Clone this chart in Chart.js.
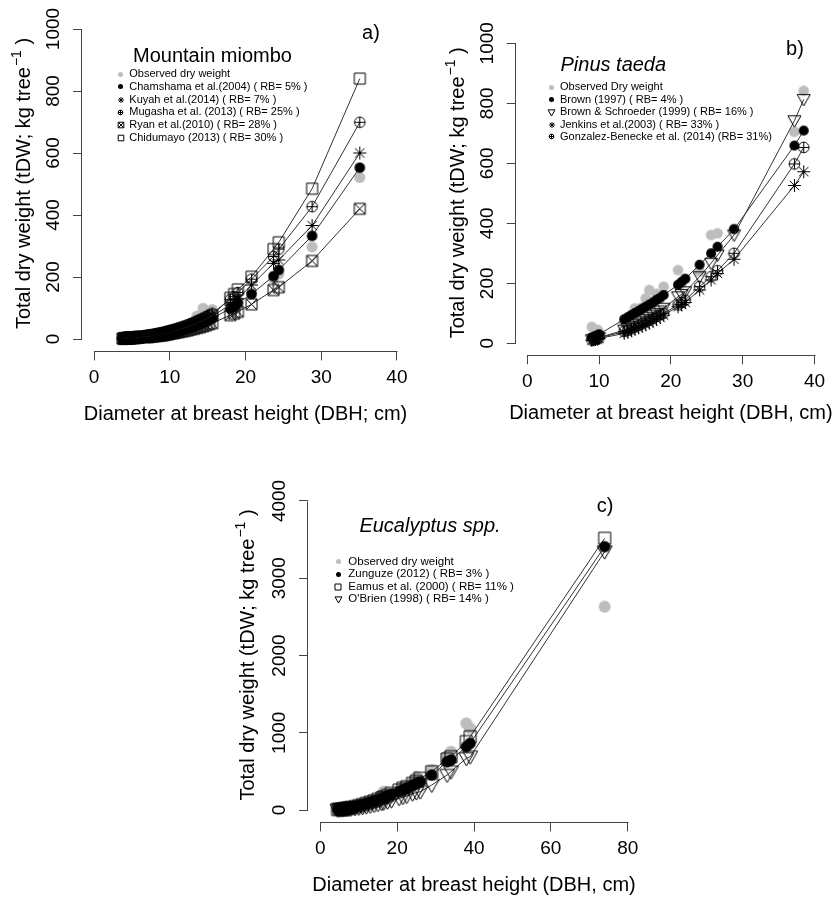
<!DOCTYPE html>
<html>
<head>
<meta charset="utf-8">
<script src="https://cdn.jsdelivr.net/npm/chart.js@4.4.1/dist/chart.umd.min.js"></script>
<style>
  html, body { margin: 0; padding: 0; background: #fff; }
  #fig { position: relative; width: 832px; height: 898px; overflow: hidden; }
  .panel { position: absolute; }
</style>
</head>
<body>
<div id="fig">
  <div class="panel" style="left:0;top:0;width:416px;height:430px"><canvas id="chartA"></canvas></div>
  <div class="panel" style="left:416px;top:0;width:416px;height:430px"><canvas id="chartB"></canvas></div>
  <div class="panel" style="left:200px;top:460px;width:460px;height:438px"><canvas id="chartC"></canvas></div>
</div>
<script>
const FONT = "'Liberation Sans', Arial, Helvetica, sans-serif";

// a) Mountain miombo - DBH (cm) and dry weight (kg/tree)
const dbhA  = [3.8, 4.0, 4.1, 4.3, 4.5, 4.6, 4.8, 5.0, 5.2, 5.4, 5.6, 5.8, 6.0, 6.8, 7.0, 7.2, 7.4, 7.6, 7.8, 8.0,
               8.2, 8.4, 8.6, 8.8, 9.0, 9.2, 9.4, 9.6, 9.8, 10.0, 10.3, 10.6, 10.9, 11.2, 11.6, 12.0, 12.4, 12.8, 13.2, 13.6,
               14.0, 14.4, 14.8, 15.2, 15.6, 18.0, 18.5, 19.0, 20.8, 23.7, 24.4, 28.8, 35.1];
const obsA  = [2, 4, 2, 5, 3, 6, 4, 7, 5, 4, 8, 6, 9, 7, 12, 9, 14, 10, 13, 11,
               16, 12, 17, 15, 20, 14, 8, 22, 18, 25, 21, 28, 26, 33, 30, 38, 42, 36, 55, 74,
               60, 99, 65, 88, 95, 110, 95, 125, 150, 195, 210, 297, 521];
const chamA = [2, 3, 3, 3, 4, 4, 4, 5, 5, 5, 6, 6, 7, 9, 9, 10, 10, 11, 12, 13,
               13, 14, 15, 16, 17, 18, 19, 20, 21, 22, 23, 25, 27, 29, 31, 34, 37, 40, 43, 47,
               50, 54, 58, 62, 67, 98, 105, 116, 145, 203, 223, 333, 553];
const kuyaA = [2, 3, 3, 3, 4, 4, 5, 5, 5, 6, 6, 7, 7, 9, 10, 10, 11, 11, 12, 13,
               14, 15, 16, 17, 18, 19, 20, 21, 23, 24, 26, 28, 30, 32, 34, 37, 41, 44, 48, 52,
               56, 60, 64, 69, 74, 110, 118, 130, 174, 244, 255, 366, 600];
const mugaA = [3, 3, 4, 4, 4, 5, 5, 6, 6, 7, 7, 8, 8, 10, 11, 11, 12, 13, 14, 15,
               16, 17, 18, 19, 20, 21, 23, 24, 25, 27, 29, 31, 33, 36, 39, 42, 46, 50, 54, 58,
               63, 67, 72, 77, 83, 128, 137, 150, 193, 266, 290, 427, 699];
const ryanA = [1, 2, 2, 2, 3, 3, 3, 4, 4, 4, 4, 5, 5, 7, 7, 7, 8, 8, 9, 10,
               10, 11, 11, 12, 13, 14, 14, 15, 16, 17, 18, 19, 21, 22, 24, 26, 28, 31, 33, 36,
               38, 41, 44, 48, 51, 77, 82, 88, 112, 158, 167, 252, 420];
const chidA = [2, 2, 2, 3, 3, 3, 4, 4, 4, 5, 5, 6, 6, 8, 8, 9, 9, 10, 11, 12,
               12, 13, 14, 15, 16, 17, 18, 19, 20, 22, 24, 26, 28, 30, 33, 36, 40, 43, 47, 51,
               56, 60, 65, 70, 76, 133, 145, 160, 201, 290, 312, 485, 840];
const labelsA = ['Observed dry weight', 'Chamshama et al.(2004) ( RB= 5% )', 'Kuyah et al.(2014) ( RB= 7% )',
  'Mugasha et al. (2013) ( RB= 25% )', 'Ryan et al.(2010) ( RB= 28% )', 'Chidumayo (2013) ( RB= 30% )'];
const xTicksA = [0, 10, 20, 30, 40];
const yTicksA = [0, 200, 400, 600, 800, 1000];

// b) Pinus taeda
const dbhB   = [9.0, 9.3, 9.5, 9.8, 10.0, 13.5, 14.0, 14.5, 15.0, 15.5, 16.0, 16.5, 17.0, 17.5, 18.0, 18.5, 19.0, 21.0, 21.5, 22.0, 24.0, 25.6, 26.5, 28.8, 37.2, 38.5];
const obsB   = [55, 30, 25, 45, 35, 70, 85, 95, 117, 110, 120, 150, 178, 140, 165, 150, 189, 244, 200, 215, 240, 361, 367, 383, 705, 842];
const brownB = [18, 22, 24, 27, 30, 80, 87, 94, 101, 108, 115, 122, 129, 136, 145, 152, 161, 195, 205, 215, 262, 300, 322, 380, 659, 709];
const bsB    = [12, 14, 15, 17, 19, 44, 50, 55, 62, 68, 74, 80, 87, 94, 100, 108, 117, 155, 163, 172, 222, 267, 294, 361, 742, 813];
const jenkB  = [10, 12, 13, 14, 16, 33, 37, 42, 47, 52, 57, 62, 68, 74, 80, 87, 94, 122, 129, 136, 178, 211, 233, 280, 526, 572];
const gonzB  = [11, 13, 14, 16, 18, 39, 43, 48, 54, 59, 65, 71, 77, 83, 89, 95, 100, 128, 136, 144, 189, 222, 242, 300, 598, 653];
const labelsB = ['Observed Dry weight', 'Brown (1997) ( RB= 4% )', 'Brown & Schroeder (1999) ( RB= 16% )',
  'Jenkins et al.(2003) ( RB= 33% )', 'Gonzalez-Benecke et al. (2014) (RB= 31%)'];
const xTicksB = [0, 10, 20, 30, 40];
const yTicksB = [0, 200, 400, 600, 800, 1000];

// c) Eucalyptus spp.
const dbhC   = [4.5, 5.0, 5.5, 6.0, 6.5, 7.0, 7.5, 8.0, 9.0, 10.0, 11.0, 12.0, 13.0, 14.0, 15.0, 16.0, 16.5, 17.5, 18.5, 20.5, 21.5, 22.5, 24.0, 25.0, 26.0, 29.0, 33.0, 34.0, 38.0, 39.0, 74.0];
const obsC   = [5, 15, 10, 25, 12, 30, 22, 40, 35, 70, 55, 95, 80, 130, 110, 170, 237, 160, 200, 230, 290, 260, 360, 431, 380, 518, 700, 755, 1122, 1057, 2632];
const zungC  = [10, 12, 15, 18, 22, 26, 30, 35, 45, 57, 70, 85, 100, 115, 132, 150, 160, 180, 205, 240, 262, 285, 320, 345, 367, 453, 626, 647, 820, 863, 3409];
const eamuC  = [8, 10, 13, 16, 20, 24, 28, 33, 44, 56, 70, 86, 102, 119, 138, 158, 168, 190, 218, 258, 282, 302, 345, 372, 410, 496, 660, 690, 885, 949, 3517];
const obriC  = [2, 3, 4, 6, 8, 10, 12, 15, 20, 27, 35, 44, 53, 63, 74, 86, 92, 106, 121, 151, 165, 180, 210, 226, 237, 324, 453, 496, 669, 690, 3344];
const labelsC = ['Observed dry weight', 'Zunguze (2012) ( RB= 3% )', 'Eamus et al. (2000) ( RB= 11% )', "O'Brien (1998) ( RB= 14% )"];
const xTicksC = [0, 20, 40, 60, 80];
const yTicksC = [0, 1000, 2000, 3000, 4000];

const GREY = '#bdbdbd';

// R-like plotting symbols drawn into small canvases, used as pointStyle
function makeIcon(kind, r, color) {
  const s = Math.ceil(2 * r + 4);
  const c = document.createElement('canvas');
  c.width = s; c.height = s;
  const g = c.getContext('2d');
  const m = s / 2;
  g.strokeStyle = color || '#000';
  g.fillStyle = color || '#000';
  g.lineWidth = 1;
  g.beginPath();
  if (kind === 'dot') {
    g.arc(m, m, r, 0, 2 * Math.PI);
    g.fill();
  } else if (kind === 'oplus') {
    g.arc(m, m, r, 0, 2 * Math.PI);
    g.moveTo(m - r, m); g.lineTo(m + r, m);
    g.moveTo(m, m - r); g.lineTo(m, m + r);
    g.stroke();
  } else if (kind === 'square') {
    g.rect(m - r, m - r, 2 * r, 2 * r);
    g.stroke();
  } else if (kind === 'boxx') {
    g.rect(m - r, m - r, 2 * r, 2 * r);
    g.moveTo(m - r, m - r); g.lineTo(m + r, m + r);
    g.moveTo(m + r, m - r); g.lineTo(m - r, m + r);
    g.stroke();
  } else if (kind === 'tri') {
    g.moveTo(m - r, m - 0.75 * r);
    g.lineTo(m + r, m - 0.75 * r);
    g.lineTo(m, m + r);
    g.closePath();
    g.stroke();
  } else if (kind === 'star') {
    const d = r * 0.72;
    g.moveTo(m - r, m); g.lineTo(m + r, m);
    g.moveTo(m, m - r); g.lineTo(m, m + r);
    g.moveTo(m - d, m - d); g.lineTo(m + d, m + d);
    g.moveTo(m + d, m - d); g.lineTo(m - d, m + d);
    g.stroke();
  }
  return c;
}

function series(label, xs, ys, icon, legendIcon, line, order) {
  return {
    label,
    data: xs.map((x, i) => ({ x, y: ys[i] })),
    pointStyle: icon,
    pointRadius: 5,
    pointHoverRadius: 5,
    showLine: line,
    borderColor: '#333',
    borderWidth: 1,
    order,
    legendIcon
  };
}

// axis lines only from first to last tick, like R's axis()
const rAxes = {
  id: 'rAxes',
  afterDraw(chart) {
    const { ctx, chartArea: a, scales: { x, y } } = chart;
    const xt = x.ticks, yt = y.ticks;
    ctx.save();
    ctx.strokeStyle = '#444';
    ctx.lineWidth = 1;
    ctx.beginPath();
    const yb = Math.round(a.bottom) + 0.5;
    ctx.moveTo(Math.round(x.getPixelForValue(xt[0].value)) + 0.5, yb);
    ctx.lineTo(Math.round(x.getPixelForValue(xt[xt.length - 1].value)) + 0.5, yb);
    const xl = Math.round(a.left) - 0.5;
    ctx.moveTo(xl, Math.round(y.getPixelForValue(yt[0].value)) + 0.5);
    ctx.lineTo(xl, Math.round(y.getPixelForValue(yt[yt.length - 1].value)) + 0.5);
    ctx.stroke();
    ctx.restore();
  }
};

// titles, panel tag, in-plot legend
const rText = {
  id: 'rText',
  afterDraw(chart, args, o) {
    const { ctx, chartArea: a } = chart;
    ctx.save();
    ctx.fillStyle = '#000';
    ctx.textBaseline = 'middle';
    ctx.textAlign = 'center';

    ctx.font = `20px ${FONT}`;
    ctx.fillText(o.tag, a.left + o.tagDx, a.top + o.tagDy);

    ctx.font = `${o.titleStyle} 20px ${FONT}`;
    ctx.fillText(o.title, a.left + o.titleDx, a.top + o.titleDy);

    // x axis title
    ctx.font = `20px ${FONT}`;
    ctx.fillText(o.xTitle, (a.left + a.right) / 2, a.bottom + o.xTitleOff);

    // y axis title with superscript
    const main = 'Total dry weight (tDW; kg tree', sup = '\u22121', tail = ' )';
    ctx.save();
    ctx.translate(a.left - o.yTitleOff, (a.top + a.bottom) / 2);
    ctx.rotate(-Math.PI / 2);
    ctx.textAlign = 'left';
    ctx.textBaseline = 'alphabetic';
    ctx.font = `20px ${FONT}`;
    const w1 = ctx.measureText(main).width, w3 = ctx.measureText(tail).width;
    ctx.font = `14px ${FONT}`;
    const w2 = ctx.measureText(sup).width;
    const x0 = -(w1 + w2 + w3) / 2;
    ctx.font = `20px ${FONT}`;
    ctx.fillText(main, x0, 7);
    ctx.font = `14px ${FONT}`;
    ctx.fillText(sup, x0 + w1 + 1, -2);
    ctx.font = `20px ${FONT}`;
    ctx.fillText(tail, x0 + w1 + w2 + 1, 7);
    ctx.restore();

    // legend
    ctx.font = `${o.legSize}px ${FONT}`;
    ctx.textAlign = 'left';
    ctx.textBaseline = 'middle';
    const lx = a.left + o.legDx;
    chart.data.datasets.forEach((ds, i) => {
      const yy = a.top + o.legDy + i * o.legStep;
      const ic = ds.legendIcon;
      ctx.drawImage(ic, Math.round(lx - ic.width / 2), Math.round(yy - ic.height / 2));
      ctx.fillText(ds.label, lx + o.legGap, yy);
    });
    ctx.restore();
  }
};

function panel(id, p) {
  const tickFont = { family: FONT, size: 19 };
  new Chart(document.getElementById(id), {
    type: 'scatter',
    data: { datasets: p.datasets },
    options: {
      responsive: true,
      maintainAspectRatio: false,
      animation: false,
      events: [],
      layout: { padding: p.padding },
      plugins: { legend: { display: false }, tooltip: { enabled: false }, rText: p.text },
      scales: {
        x: {
          type: 'linear',
          min: -0.04 * p.xTicks[p.xTicks.length - 1],
          max: 1.04 * p.xTicks[p.xTicks.length - 1],
          border: { display: false },
          grid: { drawOnChartArea: false, drawTicks: true, tickLength: 9, color: '#444' },
          ticks: { autoSkip: false, maxRotation: 0, padding: 6, color: '#000', font: tickFont,
                   callback: v => String(v) },
          afterBuildTicks: s => { s.ticks = p.xTicks.map(v => ({ value: v })); },
          afterFit: s => { s.height = p.xh; }
        },
        y: {
          type: 'linear',
          min: -0.04 * p.yTicks[p.yTicks.length - 1],
          max: 1.04 * p.yTicks[p.yTicks.length - 1],
          border: { display: false },
          grid: { drawOnChartArea: false, drawTicks: true, tickLength: 9, color: '#444' },
          ticks: { autoSkip: false, minRotation: 90, maxRotation: 90, crossAlign: 'center', padding: -2,
                   color: '#000', font: tickFont, callback: v => String(v) },
          afterBuildTicks: s => { s.ticks = p.yTicks.map(v => ({ value: v })); },
          afterFit: s => { s.width = p.yw; }
        }
      }
    },
    plugins: [rAxes, rText]
  });
}

panel('chartA', {
  xTicks: xTicksA, yTicks: yTicksA,
  padding: { left: 0, top: 16.6, right: 7, bottom: 0 }, yw: 82, xh: 78.6,
  datasets: [
    series(labelsA[0], dbhA, obsA,  makeIcon('dot', 5.5, GREY), makeIcon('dot', 2.5, GREY), false, 6),
    series(labelsA[1], dbhA, chamA, makeIcon('dot', 5.3), makeIcon('dot', 2.5), true, 5),
    series(labelsA[2], dbhA, kuyaA, makeIcon('star', 6.5), makeIcon('star', 3), true, 4),
    series(labelsA[3], dbhA, mugaA, makeIcon('oplus', 5.3), makeIcon('oplus', 2.3), true, 3),
    series(labelsA[4], dbhA, ryanA, makeIcon('boxx', 5.5), makeIcon('boxx', 2.8), true, 2),
    series(labelsA[5], dbhA, chidA, makeIcon('square', 5.5), makeIcon('square', 2.8), true, 1)
  ],
  text: {
    tag: 'a)', tagDx: 289, tagDy: 16.4,
    title: 'Mountain miombo', titleStyle: 'normal', titleDx: 130.5, titleDy: 39.4,
    xTitle: 'Diameter at breast height (DBH; cm)', xTitleOff: 62.6, yTitleOff: 59,
    legDx: 38.7, legDy: 57.4, legStep: 12.8, legGap: 8.6, legSize: 11
  }
});

panel('chartB', {
  xTicks: xTicksB, yTicks: yTicksB,
  padding: { left: 0, top: 31.3, right: 2, bottom: 0 }, yw: 99.7, xh: 74.7,
  datasets: [
    series(labelsB[0], dbhB, obsB,   makeIcon('dot', 5.3, GREY), makeIcon('dot', 2.5, GREY), false, 5),
    series(labelsB[1], dbhB, brownB, makeIcon('dot', 5), makeIcon('dot', 2.5), true, 4),
    series(labelsB[2], dbhB, bsB,    makeIcon('tri', 6.5), makeIcon('tri', 3.5), true, 3),
    series(labelsB[3], dbhB, jenkB,  makeIcon('star', 6.5), makeIcon('star', 3), true, 2),
    series(labelsB[4], dbhB, gonzB,  makeIcon('oplus', 5.3), makeIcon('oplus', 2.3), true, 1)
  ],
  text: {
    tag: 'b)', tagDx: 279.3, tagDy: 18,
    title: 'Pinus taeda', titleStyle: 'italic', titleDx: 97.6, titleDy: 33.7,
    xTitle: 'Diameter at breast height (DBH, cm)', xTitleOff: 58, yTitleOff: 59,
    legDx: 36, legDy: 56, legStep: 12.4, legGap: 8.3, legSize: 11
  }
});

panel('chartC', {
  xTicks: xTicksC, yTicks: yTicksC,
  padding: { left: 0, top: 28.6, right: 20, bottom: 0 }, yw: 108, xh: 75.6,
  datasets: [
    series(labelsC[0], dbhC, obsC,  makeIcon('dot', 6, GREY), makeIcon('dot', 2.5, GREY), false, 4),
    series(labelsC[1], dbhC, zungC, makeIcon('dot', 5.7), makeIcon('dot', 2.5), true, 1),
    series(labelsC[2], dbhC, eamuC, makeIcon('square', 6), makeIcon('square', 3), true, 3),
    series(labelsC[3], dbhC, obriC, makeIcon('tri', 7.5), makeIcon('tri', 3.5), true, 2)
  ],
  text: {
    tag: 'c)', tagDx: 297, tagDy: 17.4,
    title: 'Eucalyptus spp.', titleStyle: 'italic', titleDx: 122, titleDy: 37.4,
    xTitle: 'Diameter at breast height (DBH, cm)', xTitleOff: 62.6, yTitleOff: 61,
    legDx: 30.3, legDy: 73.1, legStep: 12.5, legGap: 10, legSize: 11.5
  }
});
</script>
</body>
</html>
